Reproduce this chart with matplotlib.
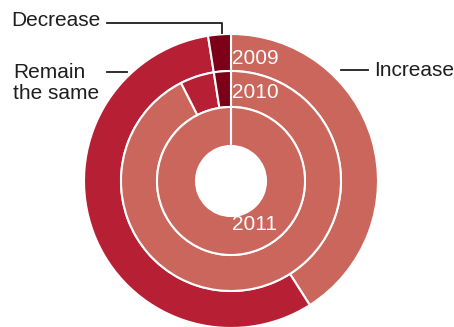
import matplotlib
matplotlib.use("Agg")
import matplotlib.pyplot as plt

plt.rcParams['font.family'] = ['Liberation Sans', 'DejaVu Sans']

categories = ["Increase", "Remain the same", "Decrease"]
years = ["2009", "2010", "2011"]
share_2009 = [41.0, 56.5, 2.5]
share_2010 = [92.5, 5.0, 2.5]
share_2011 = [100.0, 0.0, 0.0]
colours = ["#CA665B", "#B71F34", "#7B0018"]

W, H = 454, 327
fig = plt.figure(figsize=(W / 100, H / 100), dpi=100)
ax = fig.add_axes([0, 0, 1, 1])

cx, cy = 231, H - 181
rings = [(share_2009, 147, 37), (share_2010, 110, 36), (share_2011, 74, 39)]
for vals, r, w in rings:
    ax.pie(vals, colors=colours, radius=r, center=(cx, cy), startangle=90,
           counterclock=False, frame=True,
           wedgeprops=dict(width=w, edgecolor="white", linewidth=1.5))
ax.set_xlim(0, W)
ax.set_ylim(0, H)
ax.set_aspect("equal")
ax.axis("off")

fs = 15
# year labels inside each ring
ax.text(232, H - 59, years[0], color="white", fontsize=fs, va="center", ha="left")
ax.text(232, H - 92, years[1], color="white", fontsize=fs, va="center", ha="left")
ax.text(232, H - 225, years[2], color="white", fontsize=fs, va="center", ha="left")

# category labels with leader lines
tc = "#1e1e1e"
ax.text(11, H - 20, categories[2], fontsize=fs, va="center", ha="left", color=tc)
ax.plot([107, 222, 222], [H - 23, H - 23, H - 33], color=tc, lw=1.3)
ax.text(13, H - 83, "Remain\nthe same", fontsize=fs, va="center", ha="left",
        linespacing=1.1, color=tc)
ax.plot([107, 127], [H - 72, H - 72], color=tc, lw=1.3)
ax.text(374, H - 70, categories[0], fontsize=fs, va="center", ha="left", color=tc)
ax.plot([341, 368], [H - 70, H - 70], color=tc, lw=1.3)

fig.savefig("out.png", dpi=100)
